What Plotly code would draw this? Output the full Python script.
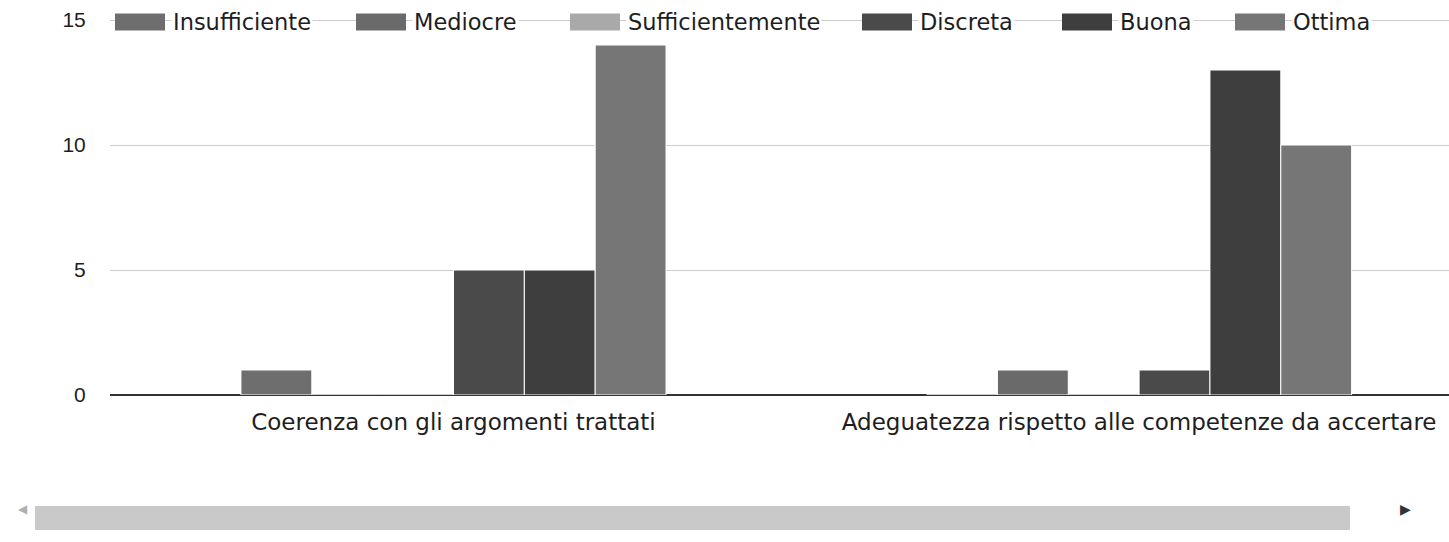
import plotly.graph_objects as go

categories = ["Coerenza con gli argomenti trattati",
              "Adeguatezza rispetto alle competenze da accertare"]
series_names = ["Insufficiente", "Mediocre", "Sufficientemente", "Discreta", "Buona", "Ottima"]
insufficiente = [1, 0]
mediocre = [0, 1]
sufficientemente = [0, 0]
discreta = [5, 1]
buona = [5, 13]
ottima = [14, 10]
series_values = [insufficiente, mediocre, sufficientemente, discreta, buona, ottima]
colors = ["#6e6e6e", "#6a6a6a", "#a9a9a9", "#4a4a4a", "#3e3e3e", "#767676"]
y_ticks = [0, 5, 10, 15]

# layout constants (pixels)
W, H = 1449, 542
ML, MR, MT, MB = 110, 0, 15, 147
pw = W - ML - MR
ph = H - MT - MB
legend_x0 = [115, 356, 570, 862, 1062, 1235]   # left edge of each legend swatch
legend_sw, legend_sh = 50, 17

def px_x(x):
    return (x - ML) / pw

def px_y(y):
    return (H - MB - y) / ph

fig = go.Figure()
for name, vals, col in zip(series_names, series_values, colors):
    fig.add_trace(go.Bar(x=categories, y=vals, name=name, showlegend=False,
                         marker=dict(color=col, line=dict(color="white", width=1))))

# legend drawn like the reference: wide swatches sitting on the top gridline
for name, col, lx in zip(series_names, colors, legend_x0):
    fig.add_shape(type="rect", xref="paper", yref="paper",
                  x0=px_x(lx), x1=px_x(lx + legend_sw),
                  y0=px_y(22 + legend_sh / 2), y1=px_y(22 - legend_sh / 2),
                  fillcolor=col, line=dict(width=0), layer="above")
    fig.add_annotation(xref="paper", yref="paper", x=px_x(lx + legend_sw + 6), y=px_y(22),
                       xanchor="left", yanchor="middle", text=name, showarrow=False,
                       bgcolor="white", borderpad=1,
                       font=dict(family="DejaVu Sans, Liberation Sans, sans-serif",
                                 size=22.5, color="#1e1e1e"))

# decorative scrollbar like the reference
fig.add_shape(type="rect", xref="paper", yref="paper",
              x0=px_x(35), x1=px_x(1350), y0=px_y(530), y1=px_y(506),
              fillcolor="#c9c9c9", line=dict(width=0), layer="above")
fig.add_annotation(xref="paper", yref="paper", x=px_x(16), y=px_y(518), text="◀",
                   showarrow=False, font=dict(size=12, color="#b0b0b0"))
fig.add_annotation(xref="paper", yref="paper", x=px_x(1413), y=px_y(519), text="▶",
                   showarrow=False, font=dict(size=14, color="#333333"))

fig.update_layout(
    width=W, height=H,
    margin=dict(l=ML, r=MR, t=MT, b=MB, autoexpand=False),
    plot_bgcolor="white", paper_bgcolor="white",
    barmode="group", bargap=0.38, bargroupgap=0.0,
    showlegend=False,
    font=dict(family="Liberation Sans, Arial, sans-serif", size=20, color="#1e1e1e"),
    xaxis=dict(type="category", range=[-0.501, 1.452], showgrid=False,
               showline=False,
               tickfont=dict(family="DejaVu Sans, Liberation Sans, sans-serif",
                             size=23, color="#1e1e1e"),
               ticks="outside", ticklen=6, tickcolor="rgba(0,0,0,0)"),
    yaxis=dict(range=[0, 15.2], tickvals=y_ticks, showgrid=True, gridcolor="#cccccc",
               gridwidth=1, zeroline=True, zerolinecolor="#333333", zerolinewidth=2,
               showline=False, tickfont=dict(size=21, color="#1e1e1e"),
               ticks="outside", ticklen=19, tickcolor="rgba(0,0,0,0)"),
)

fig.write_html("out.html", config={"displayModeBar": False},
               post_script="document.body.style.margin='0';document.body.style.overflow='hidden';")
